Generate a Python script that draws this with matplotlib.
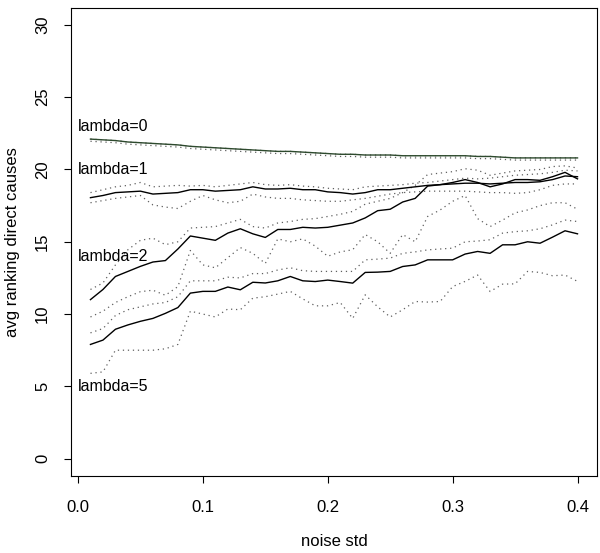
import numpy as np
import matplotlib
matplotlib.use("Agg")
import matplotlib.pyplot as plt

plt.rcParams['font.family'] = ['Liberation Sans', 'DejaVu Sans']

# noise std values
noise = [round(0.01 * i, 2) for i in range(1, 41)]

# lambda = 0
lam0_mean = [22.1, 22.05, 22.0, 21.9, 21.85, 21.8, 21.75, 21.7, 21.6, 21.55,
             21.5, 21.45, 21.4, 21.35, 21.3, 21.25, 21.25, 21.2, 21.15, 21.1,
             21.05, 21.05, 21.0, 21.0, 21.0, 20.95, 20.95, 20.95, 20.95, 20.95,
             20.95, 20.9, 20.9, 20.85, 20.8, 20.8, 20.8, 20.8, 20.8, 20.8]
lam0_hi = [22.1, 22.05, 22.0, 21.9, 21.85, 21.8, 21.75, 21.7, 21.6, 21.55,
           21.5, 21.45, 21.4, 21.35, 21.3, 21.25, 21.25, 21.2, 21.15, 21.1,
           21.05, 21.05, 21.0, 21.0, 21.0, 20.95, 20.95, 20.95, 20.95, 20.95,
           20.95, 20.9, 20.9, 20.85, 20.8, 20.8, 20.8, 20.8, 20.8, 20.8]
lam0_lo = [21.95, 21.9, 21.85, 21.75, 21.7, 21.65, 21.6, 21.55, 21.45, 21.4,
           21.35, 21.3, 21.25, 21.2, 21.15, 21.1, 21.1, 21.05, 21.0, 20.95,
           20.9, 20.9, 20.85, 20.85, 20.85, 20.8, 20.8, 20.8, 20.8, 20.8,
           20.8, 20.75, 20.75, 20.7, 20.65, 20.65, 20.65, 20.65, 20.65, 20.65]

# lambda = 1
lam1_mean = [18.05, 18.2, 18.4, 18.45, 18.5, 18.3, 18.35, 18.4, 18.6, 18.6,
             18.5, 18.55, 18.6, 18.8, 18.65, 18.65, 18.7, 18.6, 18.6, 18.45,
             18.4, 18.3, 18.4, 18.6, 18.6, 18.7, 18.8, 18.9, 18.95, 19.0,
             19.05, 19.05, 19.0, 19.05, 19.1, 19.1, 19.15, 19.3, 19.55, 19.5]
lam1_hi = [18.4, 18.6, 18.8, 18.9, 19.1, 18.8, 18.85, 18.9, 18.85, 18.9,
           18.8, 18.9, 19.0, 19.1, 18.95, 18.9, 18.95, 18.85, 18.8, 18.7,
           18.65, 18.6, 18.8, 18.85, 18.9, 18.95, 19.05, 19.1, 19.2, 19.3,
           19.4, 19.35, 19.4, 19.5, 19.6, 19.65, 19.7, 19.8, 19.95, 19.9]
lam1_lo = [17.7, 17.85, 18.0, 18.1, 18.2, 17.55, 17.4, 17.3, 17.8, 18.2,
           17.9, 17.7, 17.8, 18.3, 18.1, 18.0, 18.0, 17.9, 17.85, 17.8,
           17.8, 17.9, 18.0, 18.15, 18.3, 18.4, 18.45, 18.5, 18.5, 18.5,
           18.5, 18.45, 18.4, 18.4, 18.35, 18.4, 18.6, 18.9, 19.0, 19.0]

# lambda = 2
lam2_mean = [11.0, 11.7, 12.6, 12.95, 13.3, 13.6, 13.7, 14.5, 15.4, 15.25,
             15.1, 15.6, 15.9, 15.55, 15.3, 15.85, 15.85, 16.0, 15.95, 16.0,
             16.15, 16.3, 16.65, 17.15, 17.25, 17.75, 18.0, 18.85, 18.95, 19.1,
             19.3, 19.1, 18.8, 19.0, 19.3, 19.3, 19.25, 19.5, 19.8, 19.35]
lam2_hi = [11.7, 12.15, 13.4, 14.45, 15.1, 15.25, 14.8, 15.0, 15.95, 16.0,
           16.05, 16.3, 16.55, 16.05, 15.95, 16.3, 16.4, 16.55, 16.6, 16.75,
           16.9, 17.1, 17.6, 17.8, 18.0, 18.4, 18.9, 19.65, 19.75, 19.85,
           20.05, 19.95, 19.6, 19.75, 19.9, 19.95, 20.0, 20.2, 20.25, 20.1]
lam2_lo = [9.8, 10.2, 10.8, 11.2, 11.55, 11.65, 11.3, 11.9, 14.4, 13.4,
           13.2, 13.9, 14.6, 14.2, 13.5, 15.2, 15.0, 15.2, 14.7, 14.0,
           14.3, 14.45, 15.5, 15.0, 14.2, 15.5, 15.0, 16.75, 17.2, 17.8,
           18.2, 16.6, 16.05, 16.5, 17.0, 17.2, 17.5, 17.7, 17.7, 17.25]

# lambda = 5
lam5_mean = [7.9, 8.2, 8.95, 9.25, 9.5, 9.7, 10.05, 10.45, 11.45, 11.57,
             11.57, 11.87, 11.68, 12.2, 12.15, 12.3, 12.6, 12.3, 12.25, 12.35,
             12.25, 12.14, 12.88, 12.9, 12.95, 13.29, 13.4, 13.75, 13.75, 13.75,
             14.15, 14.33, 14.2, 14.79, 14.79, 15.0, 14.9, 15.32, 15.76, 15.55]
lam5_hi = [8.7, 9.0, 9.9, 10.3, 10.5, 10.7, 10.8, 11.2, 12.3, 12.3,
           12.3, 12.55, 12.5, 12.8, 12.8, 13.05, 13.2, 13.0, 12.95, 12.95,
           12.95, 12.95, 13.75, 13.8, 13.87, 14.2, 14.3, 14.44, 14.5, 14.56,
           15.0, 15.05, 15.14, 15.6, 15.7, 15.76, 15.9, 16.17, 16.5, 16.4]
lam5_lo = [5.9, 6.0, 7.5, 7.5, 7.5, 7.5, 7.6, 7.9, 10.2, 10.0,
           9.8, 10.35, 10.3, 11.1, 11.2, 11.38, 11.57, 11.05, 10.57, 10.57,
           10.8, 9.7, 11.33, 10.5, 9.8, 10.3, 10.87, 10.83, 10.87, 11.9,
           12.26, 12.7, 11.56, 12.07, 12.09, 12.95, 12.88, 12.65, 12.7, 12.26]

labels = ["lambda=0", "lambda=1", "lambda=2", "lambda=5"]
label_y = [23.0, 20.0, 14.0, 5.0]

fig = plt.figure(figsize=(6, 5.53), dpi=100)
ax = fig.add_axes([0.1183, 0.1392, 0.8767, 0.8472])

dot = (0, (1, 3))
band_col = "#606060"
for lo, hi in [(lam0_lo, lam0_hi), (lam1_lo, lam1_hi), (lam2_lo, lam2_hi), (lam5_lo, lam5_hi)]:
    ax.plot(noise, hi, color=band_col, lw=0.9, linestyle=dot)
    ax.plot(noise, lo, color=band_col, lw=0.9, linestyle=dot)

ax.plot(noise, lam0_mean, color="#2e4a2e", lw=1.0)
ax.plot(noise, lam1_mean, color="black", lw=1.0)
ax.plot(noise, lam2_mean, color="black", lw=1.0)
ax.plot(noise, lam5_mean, color="black", lw=1.0)

for lab, yy in zip(labels, label_y):
    ax.text(0.0, yy, lab, ha="left", va="center", fontsize=11.5)

ax.set_xlim(-0.0056, 0.4156)
ax.set_ylim(-1.2, 31.2)
ax.set_xticks([0.0, 0.1, 0.2, 0.3, 0.4])
ax.set_xticklabels(["0.0", "0.1", "0.2", "0.3", "0.4"])
ax.set_yticks([0, 5, 10, 15, 20, 25, 30])
ax.tick_params(axis="both", direction="out", length=5, width=0.8, labelsize=12)
ax.tick_params(axis="x", pad=12)
ax.tick_params(axis="y", pad=10)
for lab in ax.get_yticklabels():
    lab.set_rotation(90)
    lab.set_va("center")
for s in ax.spines.values():
    s.set_linewidth(0.8)

ax.set_xlabel("noise std", fontsize=12, labelpad=14)
ax.set_ylabel("avg ranking direct causes", fontsize=12, labelpad=11)

fig.savefig("out.png", dpi=100)
